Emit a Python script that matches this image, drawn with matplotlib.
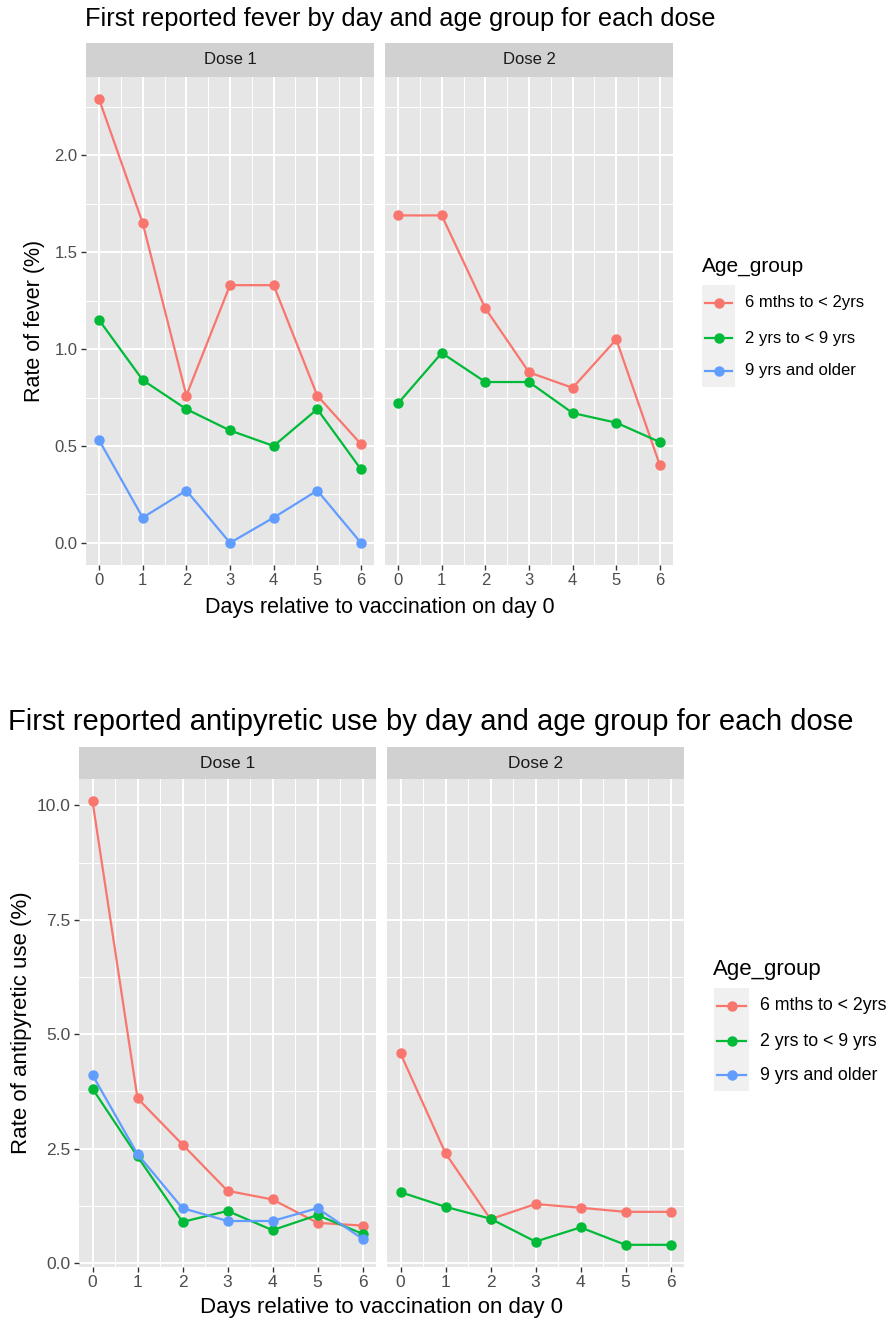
import matplotlib
matplotlib.use("Agg")
import matplotlib.pyplot as plt
from matplotlib.lines import Line2D
from matplotlib.patches import Rectangle
from matplotlib.ticker import FormatStrFormatter, MultipleLocator

plt.rcParams['font.family'] = ['Liberation Sans', 'DejaVu Sans']

W, H = 889, 1327

days = [0, 1, 2, 3, 4, 5, 6]
doses = ["Dose 1", "Dose 2"]
age_groups = ["6 mths to < 2yrs", "2 yrs to < 9 yrs", "9 yrs and older"]
colors = ["#F8766D", "#00BA38", "#619CFF"]

# fever rate (%), per dose, per age group (None = group not reported)
fever_d1_young = [2.29, 1.65, 0.76, 1.33, 1.33, 0.76, 0.51]
fever_d1_mid = [1.15, 0.84, 0.69, 0.58, 0.50, 0.69, 0.38]
fever_d1_old = [0.53, 0.13, 0.27, 0.00, 0.13, 0.27, 0.00]
fever_d2_young = [1.69, 1.69, 1.21, 0.88, 0.80, 1.05, 0.40]
fever_d2_mid = [0.72, 0.98, 0.83, 0.83, 0.67, 0.62, 0.52]

# antipyretic use rate (%)
anti_d1_young = [10.09, 3.60, 2.59, 1.58, 1.39, 0.88, 0.82]
anti_d1_mid = [3.81, 2.33, 0.90, 1.14, 0.72, 1.05, 0.64]
anti_d1_old = [4.11, 2.38, 1.20, 0.92, 0.92, 1.20, 0.53]
anti_d2_young = [4.58, 2.40, 0.96, 1.29, 1.21, 1.12, 1.12]
anti_d2_mid = [1.55, 1.23, 0.97, 0.47, 0.78, 0.40, 0.40]

fever_series = [
    [fever_d1_young, fever_d1_mid, fever_d1_old],
    [fever_d2_young, fever_d2_mid, None],
]
anti_series = [
    [anti_d1_young, anti_d1_mid, anti_d1_old],
    [anti_d2_young, anti_d2_mid, None],
]


def fx(x):
    return x / W


def fy(y):
    return 1 - y / H


def add_px_axes(fig, x0, x1, y0, y1):
    return fig.add_axes([fx(x0), fy(y1), (x1 - x0) / W, (y1 - y0) / H])


def draw_chart(fig, series, lay):
    vals = [v for dose in series for s in dose if s is not None for v in s]
    lo, hi = min(vals), max(vals)
    pad = (hi - lo) * 0.05
    for i, dose in enumerate(doses):
        x0, x1 = lay["panels"][i]
        ax = add_px_axes(fig, x0, x1, lay["top"], lay["bottom"])
        ax.set_facecolor("#E6E6E6")
        for sp in ax.spines.values():
            sp.set_visible(False)
        ax.set_xlim(-0.3, 6.3)
        ax.set_ylim(lo - pad, hi + pad)
        ax.xaxis.set_major_locator(MultipleLocator(1))
        ax.xaxis.set_minor_locator(MultipleLocator(0.5))
        ax.yaxis.set_major_locator(MultipleLocator(lay["ystep"]))
        ax.yaxis.set_minor_locator(MultipleLocator(lay["ystep"] / 2))
        ax.yaxis.set_major_formatter(FormatStrFormatter("%.1f"))
        ax.grid(which="major", color="white", lw=1.4)
        ax.grid(which="minor", color="white", lw=0.7)
        ax.set_axisbelow(True)
        ax.tick_params(which="major", length=3.5, width=1.0, color="#333333",
                       labelcolor="#4D4D4D", labelsize=lay["tick"], pad=2.5)
        ax.tick_params(which="minor", length=0)
        if i == 1:
            ax.tick_params(axis="y", which="major", length=0, labelleft=False)
        for s, c in zip(series[i], colors):
            if s is None:
                continue
            ax.plot(days, s, color=c, lw=1.6, marker="o", ms=6.5, zorder=3,
                    clip_on=False)
        # facet strip
        fig.patches.append(Rectangle((fx(x0), fy(lay["top"])), (x1 - x0) / W,
                                     (lay["top"] - lay["strip"]) / H,
                                     transform=fig.transFigure,
                                     facecolor="#D1D1D1", edgecolor="none"))
        fig.text(fx((x0 + x1) / 2), fy((lay["top"] + lay["strip"]) / 2), dose,
                 ha="center", va="center", fontsize=lay["tick"], color="#1A1A1A")

    fig.text(fx(lay["title_x"]), fy(lay["title_y"]), lay["title"],
             ha="left", va="center", fontsize=lay["title_size"], color="black")
    px0 = lay["panels"][0][0]
    px1 = lay["panels"][1][1]
    fig.text(fx((px0 + px1) / 2), fy(lay["xlab_y"]),
             "Days relative to vaccination on day 0",
             ha="center", va="center", fontsize=lay["lab"], color="black")
    fig.text(fx(lay["ylab_x"]), fy((lay["top"] + lay["bottom"]) / 2), lay["ylabel"],
             ha="center", va="center", rotation=90, fontsize=lay["lab"],
             color="black")

    # legend
    kx0, kx1 = lay["key_x"]
    ky0, ky1 = lay["key_y"]
    fig.text(fx(lay["leg_title_x"]), fy(lay["leg_title_y"]), "Age_group",
             ha="left", va="center", fontsize=lay["leg_title"], color="black")
    fig.patches.append(Rectangle((fx(kx0), fy(ky1)), (kx1 - kx0) / W,
                                 (ky1 - ky0) / H, transform=fig.transFigure,
                                 facecolor="#F0F0F0", edgecolor="none"))
    for label, c, ey in zip(age_groups, colors, lay["entries"]):
        fig.lines.append(Line2D([fx(kx0 + 3), fx(kx1 - 3)], [fy(ey), fy(ey)],
                                transform=fig.transFigure, color=c, lw=1.6))
        fig.lines.append(Line2D([fx((kx0 + kx1) / 2)], [fy(ey)],
                                transform=fig.transFigure, color=c,
                                marker="o", ms=6.5))
        fig.text(fx(lay["leg_text_x"]), fy(ey), label, ha="left", va="center",
                 fontsize=lay["leg_text"], color="black")


fever_layout = dict(
    title="First reported fever by day and age group for each dose",
    ylabel="Rate of fever (%)",
    panels=[(86, 374), (385, 673)], strip=43, top=77, bottom=565,
    ystep=0.5, title_x=85, title_y=19, title_size=18.3,
    xlab_y=607, ylab_x=35, lab=15.5, tick=12,
    key_x=(702, 735), key_y=(285, 387), entries=[303, 338, 371],
    leg_title_x=702, leg_title_y=267, leg_title=15, leg_text_x=745, leg_text=12,
)

anti_layout = dict(
    title="First reported antipyretic use by day and age group for each dose",
    ylabel="Rate of antipyretic use (%)",
    panels=[(79, 376), (387, 684)], strip=747, top=779, bottom=1267,
    ystep=2.5, title_x=8, title_y=722, title_size=21,
    xlab_y=1308, ylab_x=22, lab=16, tick=12.5,
    key_x=(714, 749), key_y=(988, 1091), entries=[1006, 1041, 1075],
    leg_title_x=713, leg_title_y=970, leg_title=16, leg_text_x=760, leg_text=12.8,
)

fig = plt.figure(figsize=(W / 100, H / 100), dpi=100)
draw_chart(fig, fever_series, fever_layout)
draw_chart(fig, anti_series, anti_layout)
fig.savefig("out.png", dpi=100, facecolor="white")
